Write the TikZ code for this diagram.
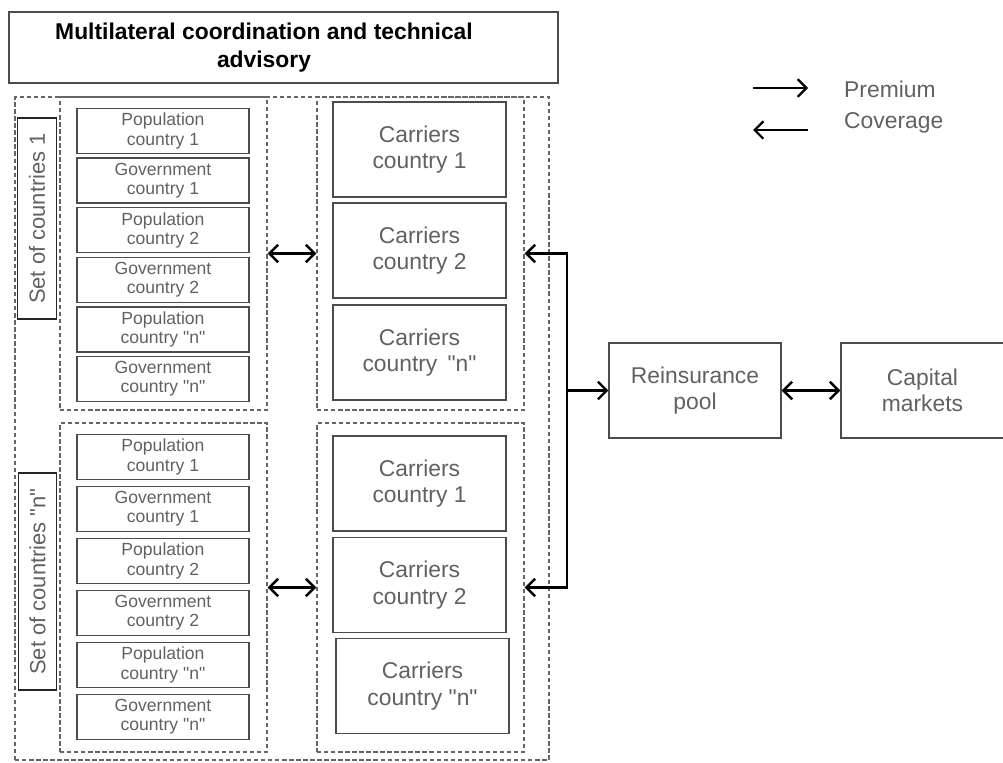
\documentclass[tikz,border=0pt]{standalone}
\usepackage{fontspec}
\setmainfont{Liberation Sans}[Ligatures=TeXOff]
\usetikzlibrary{arrows.meta}

\begin{document}
\begin{tikzpicture}[x=0.02cm,y=-0.02cm,
  box/.style={draw=black!70,line width=0.8pt,text=black!62,align=center,inner sep=0pt},
  small/.style={box,minimum width=3.44cm,minimum height=0.9cm,font=\fontsize{10}{11}\selectfont},
  carrier/.style={box,minimum width=3.46cm,minimum height=1.9cm,font=\fontsize{13}{15}\selectfont},
  grp/.style={draw=black!60,dash pattern=on 2.5pt off 1.5pt,line width=0.7pt,inner sep=0pt},
  setlbl/.style={box,draw=black!85,rotate=90,minimum height=0.77cm,font=\fontsize{12.5}{14}\selectfont},
  flow/.style={line width=1.4pt,{Straight Barb[length=5pt,width=10pt]}-{Straight Barb[length=5pt,width=10pt]}},
  key/.style={line width=1.3pt,-{Straight Barb[length=5pt,width=10pt]}}]
  \useasboundingbox (0,0) rectangle (1003,762);
  \node[box,minimum width=10.98cm,minimum height=1.42cm] (top) at (283.5,47.5) {};
  \node[text=black,align=center,font=\bfseries\fontsize{13}{16}\selectfont] (title) at (264,47.5)
    {Multilateral coordination and technical\\advisory};
  \node[grp,minimum width=10.68cm,minimum height=13.26cm] (all) at (282,428.5) {};
  \node[grp,minimum width=4.14cm,minimum height=6.26cm] (gLa) at (163.5,253.5) {};
  \node[grp,minimum width=4.14cm,minimum height=6.26cm] (gRa) at (420.5,253.5) {};
  \node[grp,minimum width=4.14cm,minimum height=6.58cm] (gLb) at (163.5,587.5) {};
  \node[grp,minimum width=4.14cm,minimum height=6.58cm] (gRb) at (420.5,587.5) {};
  \node[setlbl,minimum width=4.02cm] (setA) at (37,218.5) {Set of countries 1};
  \node[setlbl,minimum width=4.34cm] (setB) at (37.5,581.5) {Set of countries "n"};
  \foreach \s/\yo/\dy in {a/131/49.6,b/457/52}
    \foreach \t/\c [count=\i] in {Population/1,Government/1,Population/2,Government/2,Population/"n",Government/"n"}
      \node[small] (\s\i) at (163,{\yo+(\i-1)*\dy}) {\t\\country \c};
  \foreach \s/\i/\c/\x/\y in {a/1/1/419.5/149.5,a/2/2/419.5/250.5,a/3/\,"n"/419.5/352.5,
    b/1/1/419.5/483.5,b/2/2/419.5/585,b/3/"n"/422.5/686}
    \node[carrier] (c\s\i) at (\x,\y) {Carriers\\country \c};
  \node[box,minimum width=3.44cm,minimum height=1.9cm,font=\fontsize{13}{15}\selectfont] (pool) at (695,390.5) {Reinsurance\\pool};
  \node[box,minimum width=3.26cm,minimum height=1.9cm,font=\fontsize{13}{15}\selectfont] (cap) at (922.5,390.5) {Capital\\markets};
  \coordinate (bus) at (567,0);
  \draw[flow] (gLa.east) -- (gRa.west);
  \draw[flow] (gLb.east) -- (gRb.west);
  \draw[flow] (gRa.east) -- (gRa.east -| bus) -- (gRb.east -| bus) -- (gRb.east);
  \draw[key] (pool.west -| bus) -- (pool.west);
  \draw[flow] (pool) -- (cap);
  \coordinate (pr1) at (753,88); \coordinate (pr2) at (808,88);
  \coordinate (cv1) at (808,130); \coordinate (cv2) at (753,130);
  \draw[key] (pr1) -- (pr2);
  \draw[key] (cv1) -- (cv2);
  \node[anchor=west,text=black!62,font=\fontsize{13}{15}\selectfont] (prem) at (838,89) {Premium};
  \node[anchor=west,text=black!62,font=\fontsize{13}{15}\selectfont] (cov) at (838,123) {Coverage};
\end{tikzpicture}
\end{document}
